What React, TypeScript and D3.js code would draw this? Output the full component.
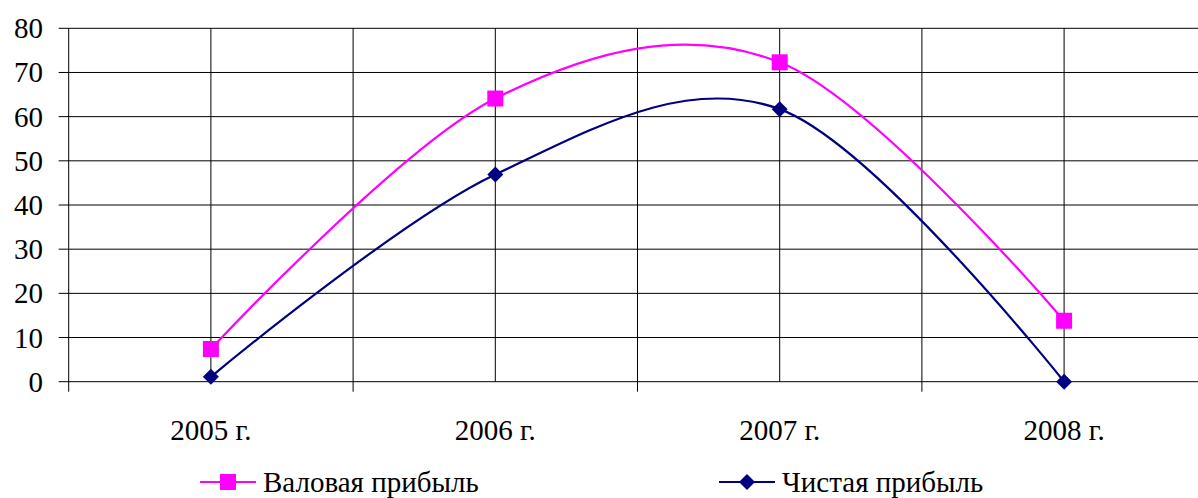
import React, { useEffect, useRef } from "react";
import * as d3 from "d3";

// данные с графика
const years = ["2005 г.", "2006 г.", "2007 г.", "2008 г."];
const grossProfit = [7.4, 64.1, 72.3, 13.8];
const netProfit = [1.1, 46.9, 61.7, 0];
const yTicks = [0, 10, 20, 30, 40, 50, 60, 70, 80];
const seriesNames = ["Валовая прибыль", "Чистая прибыль"];

const W = 1198;
const H = 498;
const FONT = "Liberation Serif, DejaVu Serif, Times New Roman, serif";

const App = () => {
  const ref = useRef<SVGSVGElement>(null);

  useEffect(() => {
    const svg = d3.select(ref.current);
    svg.selectAll("*").remove();

    const left = 68.7;
    const step = 284.4;
    const x = d3
      .scaleBand()
      .domain(years)
      .range([left, left + step * years.length])
      .padding(0);
    const y = d3.scaleLinear().domain([0, 80]).range([381.7, 28.3]);
    const cx = (c: string) => (x(c) as number) + x.bandwidth() / 2;

    const grid = svg.append("g");
    // горизонтальные линии сетки (с засечками слева)
    grid
      .selectAll(".hline")
      .data(yTicks)
      .enter()
      .append("line")
      .attr("x1", left - 10)
      .attr("x2", W)
      .attr("y1", (d) => y(d))
      .attr("y2", (d) => y(d))
      .attr("stroke", "#000")
      .attr("stroke-width", 1);

    // вертикальные линии по центрам категорий
    grid
      .selectAll(".vcenter")
      .data(years)
      .enter()
      .append("line")
      .attr("x1", (d) => cx(d))
      .attr("x2", (d) => cx(d))
      .attr("y1", y(80))
      .attr("y2", y(0))
      .attr("stroke", "#000")
      .attr("stroke-width", 1);

    // границы категорий + засечки ниже оси
    const bounds = years.map((d) => x(d) as number).concat([left + step * years.length]);
    grid
      .selectAll(".vbound")
      .data(bounds)
      .enter()
      .append("line")
      .attr("x1", (d) => d)
      .attr("x2", (d) => d)
      .attr("y1", y(80))
      .attr("y2", y(0) + 10)
      .attr("stroke", "#000")
      .attr("stroke-width", 1);

    // подписи оси Y
    svg
      .append("g")
      .selectAll("text")
      .data(yTicks)
      .enter()
      .append("text")
      .attr("x", 43)
      .attr("y", (d) => y(d) + 10)
      .attr("text-anchor", "end")
      .style("font-family", FONT)
      .style("font-size", "29px")
      .attr("fill", "#000")
      .text((d) => d);

    // подписи оси X
    svg
      .append("g")
      .selectAll("text")
      .data(years)
      .enter()
      .append("text")
      .attr("x", (d) => cx(d))
      .attr("y", 440)
      .attr("text-anchor", "middle")
      .style("font-family", FONT)
      .style("font-size", "29px")
      .attr("fill", "#000")
      .text((d) => d);

    const line = d3
      .line<number>()
      .x((_, i) => cx(years[i]))
      .y((d) => y(d))
      .curve(d3.curveCatmullRom.alpha(0));

    const square = d3.symbol().type(d3.symbolSquare).size(16 * 16);
    const diamond = (s: number) =>
      `M0,${-s}L${s},0L0,${s}L${-s},0Z`;

    // Валовая прибыль
    svg
      .append("path")
      .datum(grossProfit)
      .attr("d", line)
      .attr("fill", "none")
      .attr("stroke", "#FF00FF")
      .attr("stroke-width", 2.2);
    svg
      .append("g")
      .selectAll("path")
      .data(grossProfit)
      .enter()
      .append("path")
      .attr("d", square() as string)
      .attr("transform", (d, i) => `translate(${cx(years[i])},${y(d)})`)
      .attr("fill", "#FF00FF");

    // Чистая прибыль
    svg
      .append("path")
      .datum(netProfit)
      .attr("d", line)
      .attr("fill", "none")
      .attr("stroke", "#000080")
      .attr("stroke-width", 2.2);
    svg
      .append("g")
      .selectAll("path")
      .data(netProfit)
      .enter()
      .append("path")
      .attr("d", diamond(8))
      .attr("transform", (d, i) => `translate(${cx(years[i])},${y(d)})`)
      .attr("fill", "#000080");

    // легенда
    const legend = [
      { name: seriesNames[0], color: "#FF00FF", x0: 200, marker: "square" },
      { name: seriesNames[1], color: "#000080", x0: 719, marker: "diamond" },
    ];
    const ly = 482;
    legend.forEach((l) => {
      const g = svg.append("g");
      g.append("line")
        .attr("x1", l.x0)
        .attr("x2", l.x0 + 56)
        .attr("y1", ly)
        .attr("y2", ly)
        .attr("stroke", l.color)
        .attr("stroke-width", 2.2);
      g.append("path")
        .attr("d", l.marker === "square" ? (square() as string) : diamond(8))
        .attr("transform", `translate(${l.x0 + 28},${ly})`)
        .attr("fill", l.color);
      g.append("text")
        .attr("x", l.x0 + 63)
        .attr("y", ly + 10)
        .style("font-family", FONT)
        .style("font-size", "29px")
        .attr("fill", "#000")
        .text(l.name);
    });
  }, []);

  return (
    <svg
      ref={ref}
      width={W}
      height={H}
      style={{ position: "absolute", left: 0, top: 0, background: "#fff" }}
    />
  );
};

export default App;
